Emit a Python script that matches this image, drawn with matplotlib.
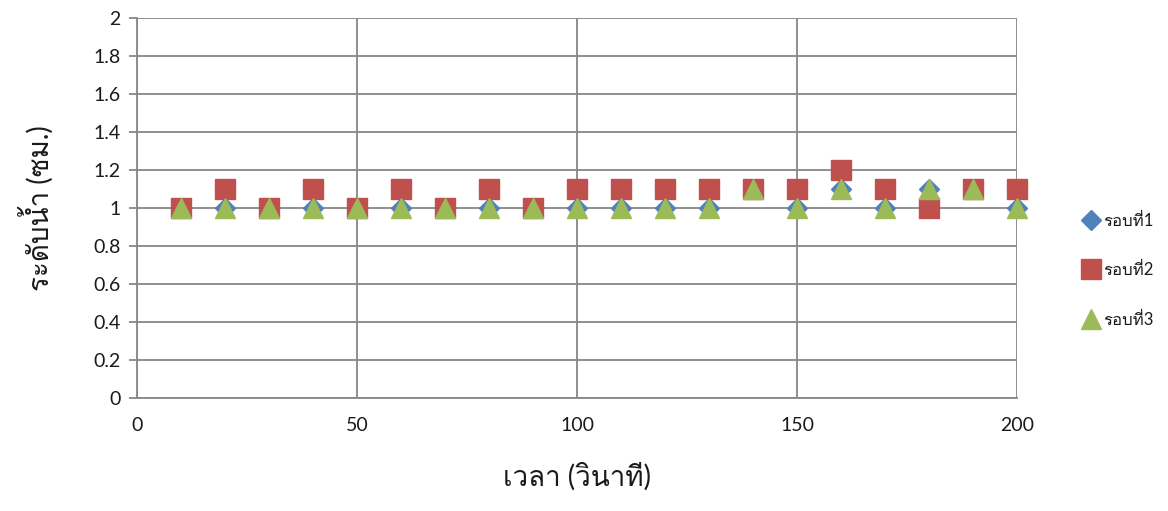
import matplotlib
matplotlib.use("Agg")
import matplotlib.pyplot as plt
from matplotlib import font_manager as fm
from matplotlib.ft2font import FT2Font

# ---- data ----
times = [10, 20, 30, 40, 50, 60, 70, 80, 90, 100,
         110, 120, 130, 140, 150, 160, 170, 180, 190, 200]
round1 = [1, 1, 1, 1, 1, 1, 1, 1, 1, 1,
          1, 1, 1, 1.1, 1, 1.1, 1, 1.1, 1.1, 1]
round2 = [1, 1.1, 1, 1.1, 1, 1.1, 1, 1.1, 1, 1.1,
          1.1, 1.1, 1.1, 1.1, 1.1, 1.2, 1.1, 1.0, 1.1, 1.1]
round3 = [1, 1, 1, 1, 1, 1, 1, 1, 1, 1,
          1, 1, 1, 1.1, 1, 1.1, 1, 1.1, 1.1, 1]
series_names = ["รอบที่1", "รอบที่2", "รอบที่3"]
x_label = "เวลา (วินาที)"
y_label = "ระดับน้ำ (ซม.)"
x_ticks = [0, 50, 100, 150, 200]
y_ticks = [0, 0.2, 0.4, 0.6, 0.8, 1, 1.2, 1.4, 1.6, 1.8, 2]
y_tick_labels = ["0", "0.2", "0.4", "0.6", "0.8", "1", "1.2", "1.4", "1.6", "1.8", "2"]

# ---- find a (preferably looped) font with Thai glyphs ----
looped_names = ["looped", "loma", "garuda", "norasi", "kinnari", "tlwg",
                "umpush", "sawasdee", "laksaman", "waree", "purisa", "tahoma"]
cands = []
for i, f in enumerate(fm.fontManager.ttflist):
    try:
        cm = FT2Font(f.fname).get_charmap()
        if ord("ร") in cm and ord("น") in cm:
            nm = f.name.lower()
            score = 0 if any(k in nm for k in looped_names) else 1
            cands.append((score, i, f.name))
    except Exception:
        pass
thai_font = None
if cands:
    cands.sort()
    thai_font = cands[0][2]
families = ["Lato"] + ([thai_font] if thai_font else []) + ["DejaVu Sans"]
plt.rcParams["font.family"] = families
plt.rcParams["font.weight"] = "normal"

fig = plt.figure(figsize=(11.68, 5.11), dpi=100)
ax = fig.add_axes([137 / 1168, 1 - 398 / 511, 880 / 1168, 380 / 511])

grid_c = "#878787"
text_c = "#1a1a1a"
ax.plot(times, round1, linestyle="none", marker="D", markersize=10.5,
        color="#4F81BD", label=series_names[0], zorder=3, clip_on=False)
ax.plot(times, round2, linestyle="none", marker="s", markersize=14,
        color="#C0504D", label=series_names[1], zorder=4, clip_on=False)
ax.plot(times, round3, linestyle="none", marker="^", markersize=14,
        color="#9BBB59", label=series_names[2], zorder=5, clip_on=False)

ax.set_xlim(0, 200)
ax.set_ylim(0, 2)
ax.set_xticks(x_ticks)
ax.set_yticks(y_ticks)
ax.set_yticklabels(y_tick_labels)
ax.grid(True, color=grid_c, linewidth=1.3)
ax.set_axisbelow(True)
for s in ["top", "right"]:
    ax.spines[s].set_visible(False)
for s in ["left", "bottom"]:
    ax.spines[s].set_color(grid_c)
    ax.spines[s].set_linewidth(1.3)
ax.tick_params(axis="y", direction="out", length=6, color=grid_c, width=1.3,
               labelsize=14, pad=6, labelcolor=text_c)
ax.tick_params(axis="x", direction="out", length=0, labelsize=14, pad=14,
               labelcolor=text_c)

ax.set_xlabel(x_label, fontsize=20, labelpad=20, color=text_c)
ax.set_ylabel(y_label, fontsize=20, labelpad=28, color=text_c)

fig.legend(loc="center left", bbox_to_anchor=(1078 / 1168, 1 - 270 / 511),
           frameon=False, fontsize=12, labelspacing=2.0, handlelength=0.8,
           handletextpad=0.3, borderaxespad=0, labelcolor=text_c)

fig.savefig("out.png", dpi=100)
